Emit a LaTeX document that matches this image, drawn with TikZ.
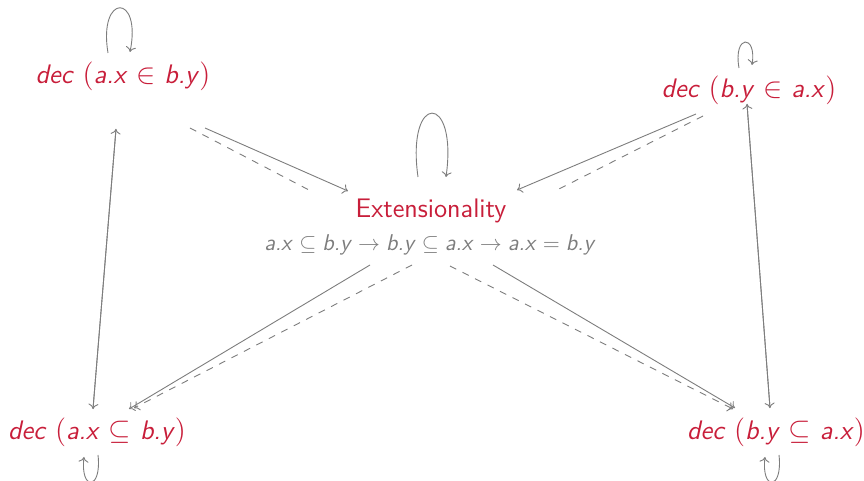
\documentclass[tikz,border=0pt]{standalone}
\usetikzlibrary{arrows.meta}
\definecolor{lblred}{RGB}{200,30,58}
\definecolor{lngray}{RGB}{125,125,125}
\newcommand\sv[1]{\mbox{\sffamily\itshape #1\/}}
\newcommand\wrel[1]{\mathrel{\mskip0.5mu#1\mskip0.5mu}}
\tikzset{
  x=0.5pt, y=-0.5pt,
  lbl/.style={text=lblred, inner sep=0pt, font=\sffamily\fontsize{13.4}{16}\selectfont},
  frm/.style={text=lngray, inner sep=0pt, font=\sffamily\fontsize{11.4}{14}\selectfont},
  edge/.style={draw=lngray, line width=0.45pt, -{To[length=2.6pt,width=5pt]}},
  dedge/.style={edge, dash pattern=on 3.5pt off 3.5pt},
  dline/.style={draw=lngray, line width=0.45pt, dash pattern=on 3.5pt off 3.5pt},
}
\begin{document}
\begin{tikzpicture}
\useasboundingbox (0,0) rectangle (864,481);
% nodes
\node[lbl] (A) at (123,76) {$\sv{dec}\ (\sv{a.x}\wrel{\in}\sv{b.y})$};
\node[lbl] (B) at (749,90) {$\sv{dec}\ (\sv{b.y}\wrel{\in}\sv{a.x})$};
\node[lbl] (C) at (97,432) {$\sv{dec}\ (\sv{a.x}\wrel{\subseteq}\sv{b.y})$};
\node[lbl] (D) at (776,432) {$\sv{dec}\ (\sv{b.y}\wrel{\subseteq}\sv{a.x})$};
\node[lbl] (E) at (431,211) {Extensionality};
\node[frm] (F) at (430,245) {$\sv{a.x}\subseteq\sv{b.y}\rightarrow\sv{b.y}\subseteq\sv{a.x}\rightarrow\sv{a.x}=\sv{b.y}$};
% endpoints
\coordinate (aes) at (205,128); \coordinate (aee) at (348,191);
\coordinate (ads) at (190,128); \coordinate (ade) at (309,190);
\coordinate (bes) at (696,114); \coordinate (bee) at (517,190);
\coordinate (bds) at (703,116); \coordinate (bde) at (557,190);
\coordinate (ecs) at (370,265); \coordinate (ece) at (129,409);
\coordinate (ecds) at (412,265); \coordinate (ecde) at (134,408);
\coordinate (eds) at (493,265); \coordinate (ede) at (735,408);
\coordinate (edds) at (450,266); \coordinate (edde) at (733,409);
\coordinate (acT) at (116,129); \coordinate (acB) at (93,409);
\coordinate (bdT) at (747,104); \coordinate (bdB) at (770,408);
\coordinate (la1) at (108,53); \coordinate (la2) at (130,52);
\coordinate (lb1) at (739,68); \coordinate (lb2) at (752,65);
\coordinate (le1) at (418,177); \coordinate (le2) at (446,177);
\coordinate (lc1) at (98,455); \coordinate (lc2) at (84,457);
\coordinate (ld1) at (779,455); \coordinate (ld2) at (765,457);
% edges
\draw[edge] (aes) -- (aee);
\draw[dline] (ads) -- (ade);
\draw[edge] (bes) -- (bee);
\draw[dline] (bds) -- (bde);
\draw[edge] (ecs) -- (ece);
\draw[dedge] (ecds) -- (ecde);
\draw[edge] (eds) -- (ede);
\draw[dedge] (edds) -- (edde);
\draw[edge] (acT) -- (acB);
\draw[edge] (acB) -- (acT);
\draw[edge] (bdT) -- (bdB);
\draw[edge] (bdB) -- (bdT);
% loops
\draw[edge] (la1) .. controls (98,-7) and (142,-7) .. (la2);
\draw[edge] (lb1) .. controls (733,34) and (757,34) .. (lb2);
\draw[edge] (le1) .. controls (406,92) and (458,92) .. (le2);
\draw[edge] (lc1) .. controls (102,491) and (80,491) .. (lc2);
\draw[edge] (ld1) .. controls (783,491) and (761,491) .. (ld2);
\end{tikzpicture}
\end{document}
